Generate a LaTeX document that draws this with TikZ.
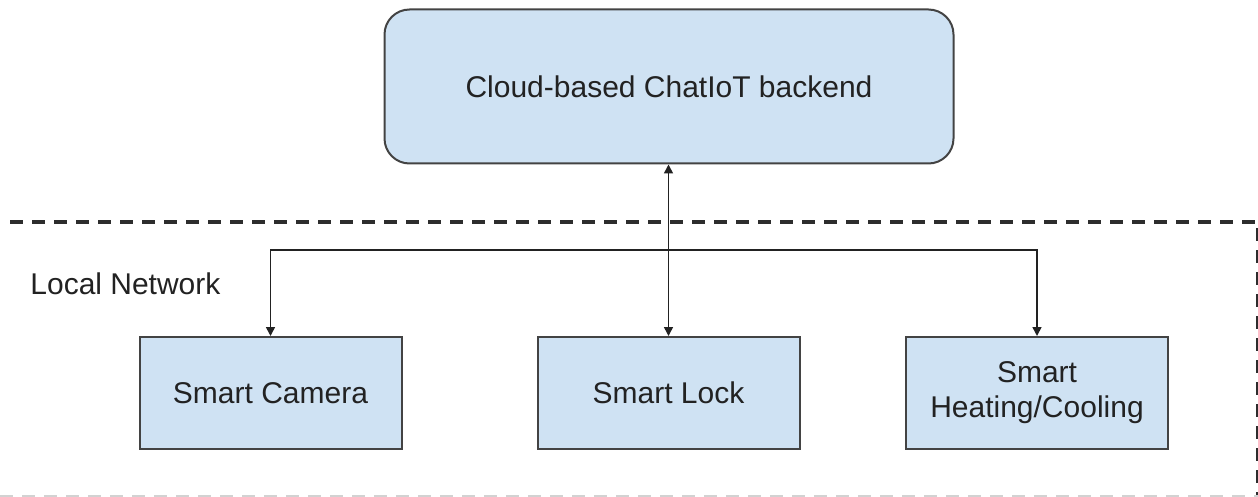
\documentclass[tikz,border=0pt]{standalone}
\usepackage{fontspec}
\setmainfont{Liberation Sans}
\usetikzlibrary{arrows.meta}
\definecolor{boxfill}{HTML}{CFE2F3}
\definecolor{boxline}{HTML}{434343}
\definecolor{ink}{HTML}{222222}
\begin{document}
\begin{tikzpicture}[x=0.5pt,y=-0.5pt,
  box/.style={draw=boxline,line width=1pt,fill=boxfill,text=ink,
    font=\fontsize{15}{17.5}\selectfont,align=center,inner sep=0pt},
  device/.style={box,minimum width=131pt,minimum height=56pt},
  conn/.style={draw=ink,line width=0.8pt,
    arrows={-Triangle[length=4.5pt,width=4.5pt]}},
  boundary/.style={draw=ink!95,line width=1.6pt,dash pattern=on 6.5pt off 4.5pt},
  label/.style={text=ink,font=\fontsize{15}{17.5}\selectfont,inner sep=0pt}]
\useasboundingbox (0,0) rectangle (1258,497);

% network boundary
\coordinate (nw) at (10,222);
\coordinate (ne) at (1258,222);
\coordinate (se) at (1258,497);
\draw[boundary] (nw) -- (ne) -- (se);
\coordinate (sw) at (0,496);
\coordinate (sse) at (1258,496);
\draw[draw=gray!35,line width=1pt,dash pattern=on 6.5pt off 4.5pt] (sw) -- (sse);

% cloud backend
\node[box,rounded corners=12.5pt,minimum width=284.5pt,minimum height=77pt]
  (cloud) at (669,86.5) {Cloud-based ChatIoT backend};

% devices
\node[device] (cam)  at (270.5,393) {Smart Camera};
\node[device] (lock) at (668.5,393) {Smart Lock};
\node[device] (heat) at (1037,393) {Smart\\Heating/Cooling};

\node[label,anchor=west] (lan) at (30,284) {Local Network};

% connectors
\coordinate (bus) at (668.5,250);
\draw[conn,arrows={Triangle[length=4.5pt,width=4.5pt]-Triangle[length=4.5pt,width=4.5pt]}]
  (lock.north) -- (lock.north |- cloud.south);
\draw[conn] (bus) -| (cam.north);
\draw[conn] (bus) -| (heat.north);
\end{tikzpicture}
\end{document}
